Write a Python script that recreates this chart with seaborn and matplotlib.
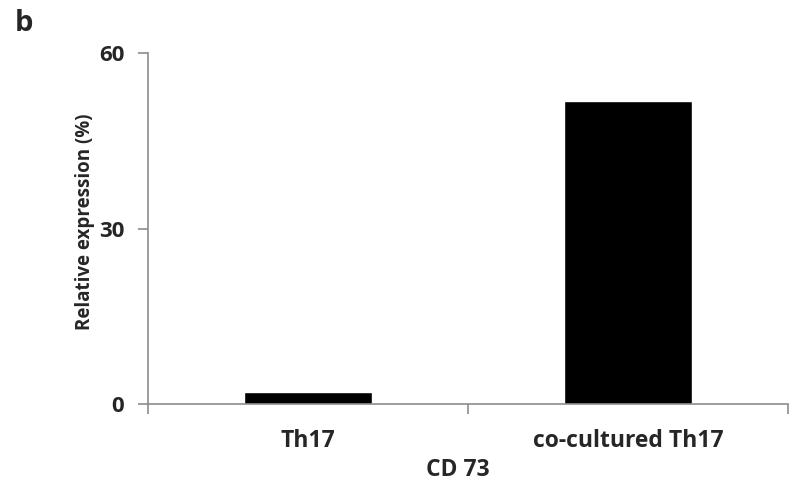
import numpy as np
import pandas as pd
import seaborn as sns
import matplotlib.pyplot as plt

# values
groups = ["Th17", "co-cultured Th17"]
expression = [2.0, 51.8]
y_ticks = [0, 30, 60]

df = pd.DataFrame({"group": groups, "expression": expression})

sns.set_style("white")
plt.rcParams['font.family'] = ['Open Sans', 'DejaVu Sans']
plt.rcParams['font.weight'] = 'bold'

fig = plt.figure(figsize=(7.9, 4.82), dpi=100)
ax = fig.add_axes([0.1873, 0.1618, 0.8102, 0.7282])

sns.barplot(data=df, x="group", y="expression", order=groups, color="black",
            width=0.4, saturation=1, ax=ax)

ax.set_xlim(-0.5, 1.5)
ax.set_ylim(0, 60)
ax.set_yticks(y_ticks)
ax.set_yticklabels([str(t) for t in y_ticks], fontsize=16, fontweight='bold')
ax.tick_params(axis='y', direction='out', length=7, width=1.2, color='#8c8c8c',
               pad=10, left=True)

# category boundary ticks on the x axis
ax.set_xticks([0, 1])
ax.set_xticklabels(groups, fontsize=16.5, fontweight='bold')
ax.tick_params(axis='x', which='major', length=0, pad=18)
ax.set_xticks([-0.5, 0.5, 1.5], minor=True)
ax.tick_params(axis='x', which='minor', direction='out', length=7, width=1.2,
               color='#8c8c8c', bottom=True)

for s in ['top', 'right']:
    ax.spines[s].set_visible(False)
for s in ['left', 'bottom']:
    ax.spines[s].set_color('#8c8c8c')
    ax.spines[s].set_linewidth(1.2)

ax.set_xlabel("CD 73", fontsize=16.5, fontweight='bold')
ax.xaxis.set_label_coords(0.484, -0.155)
ax.set_ylabel("Relative expression (%)", fontsize=13.5, fontweight='bold')
ax.yaxis.set_label_coords(-0.083, 0.52)

fig.text(0.019, 0.935, "b", fontsize=21, fontweight='bold')

fig.savefig("out.png", dpi=100)
